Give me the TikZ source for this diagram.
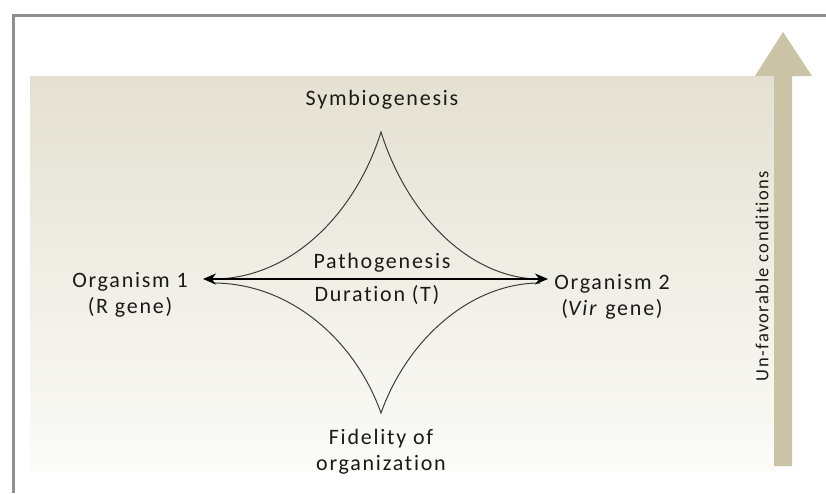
\documentclass[tikz,border=0pt]{standalone}
\usepackage{fontspec}
\setmainfont{Carlito}[LetterSpace=8, Ligatures=NoCommon]
\usetikzlibrary{arrows.meta}
\definecolor{framegray}{HTML}{8E8E92}
\definecolor{bgtop}{HTML}{E4E1D2}
\definecolor{bgmid}{HTML}{EEECE3}
\definecolor{bgbot}{HTML}{FBFBF8}
\definecolor{arrowtan}{HTML}{CAC3A5}
\definecolor{textdark}{HTML}{1A1A1A}
\definecolor{curvegray}{HTML}{3C3C3C}
\begin{document}
\begin{tikzpicture}[x=1pt,y=-1pt,
  lbl/.style={font=\fontsize{22}{26}\selectfont, text=textdark, align=center, inner sep=0pt},
  vlbl/.style={font=\fontsize{18.5}{22}\selectfont, text=textdark, inner sep=0pt, rotate=90},
  curve/.style={draw=curvegray, line width=1pt},
  dblarrow/.style={draw=black, line width=1.8pt, {Stealth[length=13pt,width=11pt]}-{Stealth[length=13pt,width=11pt]}}
]
\useasboundingbox (0,0) rectangle (826,493);
% background
\shade[top color=bgtop, middle color=bgmid, bottom color=bgbot] (30,76) rectangle (776,470);
% frame
\draw[framegray, line width=3pt] (826,15) -- (13.5,15) -- (13.5,493);
% big arrow
\fill[arrowtan] (774,466) -- (792,466) -- (792,76) -- (812,76) -- (783,32) -- (755,76) -- (774,76) -- cycle;
\node[vlbl] (cond) at (762,276) {Un-favorable conditions};
% star tips
\coordinate (tipT) at (381,132);
\coordinate (tipB) at (381,413);
\coordinate (luL) at (213,279);
\coordinate (llL) at (213,283);
\coordinate (ruR) at (540,279);
\coordinate (rlR) at (540,283);
\draw[curve] (luL) .. controls (290,279) and (355,215) .. (tipT)
             .. controls (407,215) and (470,279) .. (ruR);
\draw[curve] (llL) .. controls (290,283) and (355,340) .. (tipB)
             .. controls (407,340) and (470,283) .. (rlR);
% arrow
\coordinate (aL) at (203,279);
\coordinate (aR) at (548,279);
\draw[dblarrow] (aL) -- (aR);
% labels
\node[lbl] (symb) at (382,100) {Symbiogenesis};
\node[lbl] (patho) at (382,263) {Pathogenesis};
\node[lbl] (dur) at (377,295) {Duration (T)};
\node[lbl] (org1) at (130,295) {Organism 1\\(R gene)};
\node[lbl] (org2) at (612,297) {Organism 2\\(\textit{Vir} gene)};
\node[lbl] (fid) at (381,452) {Fidelity of\\organization};
\end{tikzpicture}
\end{document}
